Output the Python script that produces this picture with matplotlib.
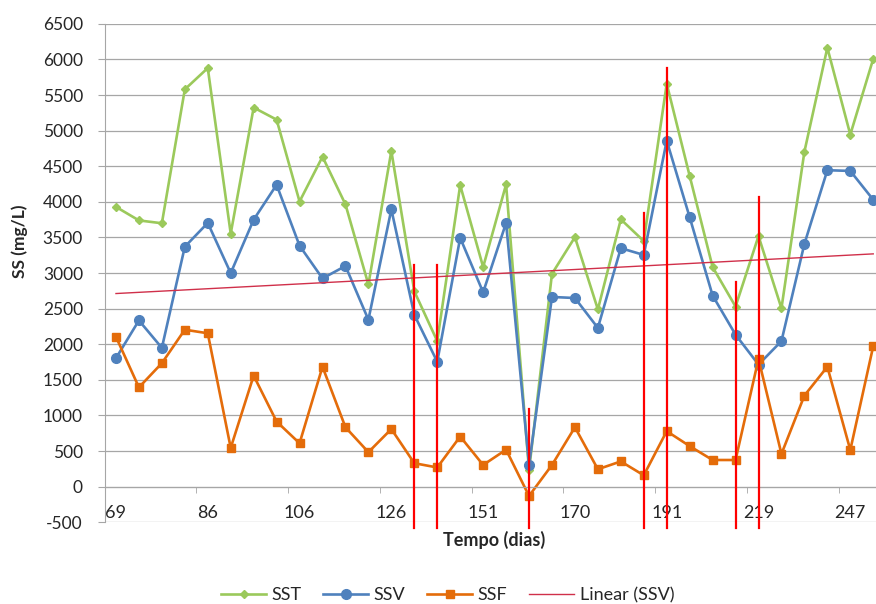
import numpy as np
import matplotlib
matplotlib.use("Agg")
import matplotlib.pyplot as plt

# category labels (shown every 4th sample)
day_labels = [69, 86, 106, 126, 151, 170, 191, 219, 247]

# suspended solids, mg/L (one value per sampling day)
sst = [3930, 3740, 3700, 5580, 5880, 3555, 5325, 5155, 4005, 4635, 3965, 2840,
       4715, 2745, 2045, 4235, 3085, 4245, 230, 2990, 3505, 2490, 3755, 3450,
       5660, 4365, 3085, 2530, 3520, 2505, 4705, 6165, 4945, 6010]
ssv = [1805, 2335, 1950, 3370, 3705, 3000, 3750, 4240, 3385, 2925, 3100, 2345,
       3895, 2415, 1755, 3495, 2730, 3705, 305, 2665, 2650, 2230, 3350, 3255,
       4860, 3785, 2685, 2135, 1715, 2045, 3410, 4445, 4435, 4030]
ssf = [2105, 1395, 1735, 2205, 2155, 545, 1560, 915, 610, 1685, 835, 485,
       810, 330, 270, 705, 305, 520, -130, 305, 835, 245, 355, 160,
       780, 570, 375, 375, 1795, 460, 1280, 1685, 515, 1975]

# Excel linear trendline of SSV, read at the first and last sample
trend_x = [0, 33]
trend_ssv = [2713, 3270]

# red marks drawn over the chart (sample index, top value)
mark_idx = [13, 14, 18, 23, 24, 27, 28]
mark_top = [3120, 3120, 1090, 3845, 5885, 2870, 4065]
mark_bottom = -580

plt.rcParams['font.family'] = ['Lato', 'DejaVu Sans']
plt.rcParams['axes.unicode_minus'] = False

green = '#9BC95B'
blue = '#4F81BD'
orange = '#E46C0A'
trend_col = '#D0304A'
grid_col = '#A6A6A6'
text_col = '#262626'

W, H = 876, 604
fig = plt.figure(figsize=(W / 100, H / 100), dpi=100)
ax = fig.add_axes([104.5 / W, 1 - 522.3 / H, (W - 104.5) / W, (522.3 - 23.9) / H])

x = np.arange(len(sst))
l1, = ax.plot(x, sst, color=green, lw=1.9, marker='D', ms=4.5, label='SST')
l2, = ax.plot(x, ssv, color=blue, lw=1.9, marker='o', ms=7, label='SSV')
l3, = ax.plot(x, ssf, color=orange, lw=1.9, marker='s', ms=6, label='SSF')
l4, = ax.plot(trend_x, trend_ssv, color=trend_col, lw=1.0, label='Linear (SSV)')

for i, top in zip(mark_idx, mark_top):
    ax.plot([i, i], [mark_bottom, top], color='red', lw=1.6, clip_on=False, zorder=6)

ax.set_xlim(-0.5, 33.12)
ax.set_ylim(-500, 6500)
ax.set_yticks(np.arange(-500, 6501, 500))
ax.grid(axis='y', color=grid_col, lw=0.9)
ax.set_axisbelow(True)

ax.spines['top'].set_visible(False)
ax.spines['right'].set_visible(False)
ax.spines['bottom'].set_position(('data', 0))
ax.spines['bottom'].set_color(grid_col)
ax.spines['left'].set_color(grid_col)

ax.set_xticks(np.arange(0, 33, 4), [str(d) for d in day_labels])
ax.set_xticks(np.arange(3.5, 33, 4), minor=True)
ax.tick_params(axis='x', which='major', length=0, pad=13, labelsize=13, labelcolor=text_col)
ax.tick_params(axis='x', which='minor', length=4.5, color=grid_col, direction='out')
ax.tick_params(axis='y', length=5, color=grid_col, pad=10.5, labelsize=12.5, labelcolor=text_col)

fig.text(20 / W, 1 - 241 / H, 'SS (mg/L)', rotation=90, ha='center', va='center',
         fontsize=12.5, fontweight='bold', color=text_col)
fig.text(494 / W, 1 - 540 / H, 'Tempo (dias)', ha='center', va='center',
         fontsize=13, fontweight='bold', color=text_col)

fig.legend(handles=[l1, l2, l3, l4], loc='center', bbox_to_anchor=(447.5 / W, 1 - 595 / H),
           ncol=4, frameon=False, fontsize=13, handlelength=2.5, handletextpad=0.3,
           columnspacing=1.2, labelcolor=text_col)

fig.savefig('out.png', dpi=100)
